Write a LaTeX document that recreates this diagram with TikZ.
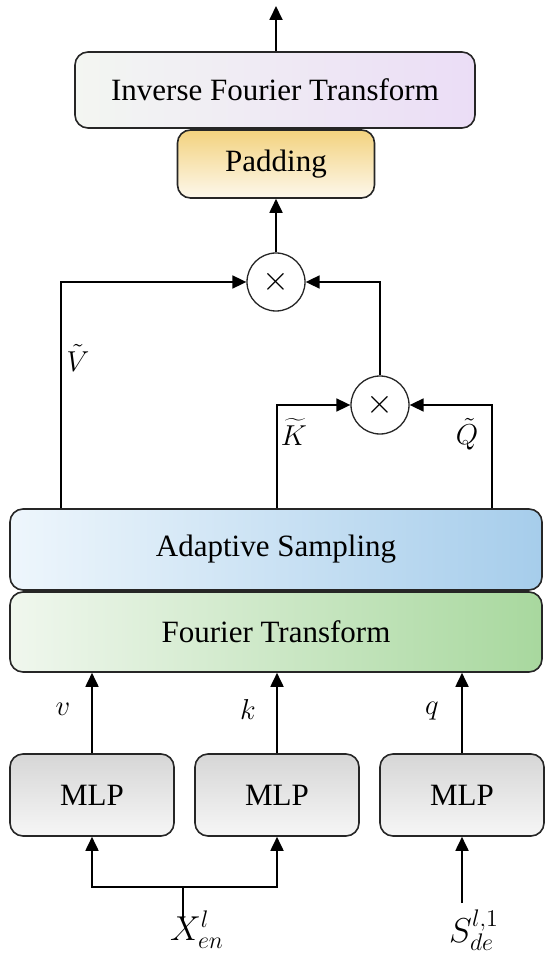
\documentclass[tikz,border=0pt]{standalone}
\usepackage{fontspec}
\setmainfont{Liberation Serif}
\usetikzlibrary{arrows.meta,calc}
\definecolor{ifta}{HTML}{F3F6F2}
\definecolor{iftb}{HTML}{EBDDF6}
\definecolor{pada}{HTML}{F3D27E}
\definecolor{padb}{HTML}{FDF8EC}
\definecolor{asa}{HTML}{EEF6FC}
\definecolor{asb}{HTML}{A6CDEB}
\definecolor{fta}{HTML}{F0F7EE}
\definecolor{ftb}{HTML}{A8D89E}
\definecolor{mlpa}{HTML}{D6D6D6}
\definecolor{mlpb}{HTML}{F6F6F6}
\tikzset{
  every node/.style={font=\fontsize{15.5}{18}\selectfont},
  box/.style={draw=black!85, line width=0.8pt, rounded corners=6.5pt, inner sep=0pt, align=center},
  mul/.style={draw=black!85, line width=0.65pt, circle, fill=white, minimum size=29pt, inner sep=0pt, font=\fontsize{19}{20}\selectfont},
  conn/.style={line width=0.9pt, draw=black},
  arr/.style={conn, -{Triangle[length=7pt,width=6.5pt]}},
  lbl/.style={inner sep=0pt}
}
\begin{document}
\begin{tikzpicture}[x=0.5pt,y=-0.5pt]
\useasboundingbox (0,0) rectangle (550,956);
% boxes
\node[box, minimum width=200pt, minimum height=38pt, left color=ifta, right color=iftb] (ift) at (275,90) {Inverse Fourier Transform};
\node[box, minimum width=98.5pt, minimum height=34pt, top color=pada, bottom color=padb] (pad) at (276,164) {Padding};
\node[box, minimum width=266pt, minimum height=40.5pt, left color=asa, right color=asb] (as) at (276,549.5) {Adaptive Sampling};
\node[box, minimum width=266pt, minimum height=40pt, left color=fta, right color=ftb] (ft) at (276,632) {Fourier Transform};
\node[box, minimum width=82pt, minimum height=41pt, top color=mlpa, bottom color=mlpb] (m1) at (92,795) {MLP};
\node[box, minimum width=82pt, minimum height=41pt, top color=mlpa, bottom color=mlpb] (m2) at (277,795) {MLP};
\node[box, minimum width=82pt, minimum height=41pt, top color=mlpa, bottom color=mlpb] (m3) at (462,795) {MLP};
% multipliers
\node[mul] (u) at (276,282) {$\times$};
\node[mul] (l) at (380,405) {$\times$};
% coordinates
\coordinate (top) at (276,6);
\coordinate (vx) at (61,0);
\coordinate (kx) at (277,0);
\coordinate (qx) at (492,0);
\coordinate (br) at (183,887);
\coordinate (xin) at (183,921);
\coordinate (sin) at (462,903);
% top
\draw[arr] (ift.north -| top) -- (top);
\draw[arr] (u.north) -- (pad.south);
% V path
\draw[arr] (as.north -| vx) |- (u.west);
% K, Q
\draw[arr] (as.north -| kx) |- (l.west);
\draw[arr] (as.north -| qx) |- (l.east);
\draw[arr] (l.north) |- (u.east);
% MLP outputs
\draw[arr] (m1.north) -- (m1.north |- ft.south);
\draw[arr] (m2.north) -- (m2.north |- ft.south);
\draw[arr] (m3.north) -- (m3.north |- ft.south);
% inputs
\draw[conn] (xin) -- (br);
\draw[arr] (br) -| (m1.south);
\draw[arr] (br) -| (m2.south);
\draw[arr] (sin) -- (m3.south);
% labels
\node[lbl] (lv) at (78,358) {$\tilde{V}$};
\node[lbl] (lk) at (294,432) {$\widetilde{K}$};
\node[lbl] (lq) at (467,434) {$\tilde{Q}$};
\node[lbl] (sv) at (63,709) {$v$};
\node[lbl] (sk) at (248,709) {$k$};
\node[lbl] (sq) at (432,711) {$q$};
\node[lbl, font=\fontsize{17.5}{19}\selectfont] (xl) at (197,930) {$X_{en}^{l}$};
\node[lbl, font=\fontsize{17.5}{19}\selectfont] (sl) at (474,930) {$S_{de}^{l,1}$};
\end{tikzpicture}
\end{document}
